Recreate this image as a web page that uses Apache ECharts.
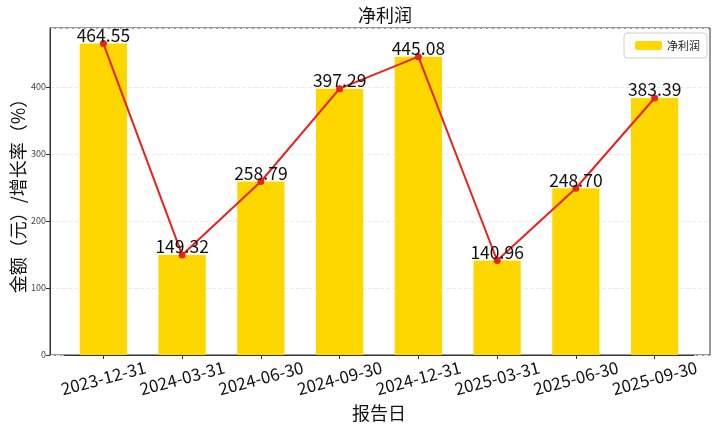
<!DOCTYPE html>
<html><head><meta charset="utf-8">
<script src="https://cdn.jsdelivr.net/npm/echarts@6/dist/echarts.min.js"></script>
<style>html,body{margin:0;padding:0;background:#fff}#c{width:719px;height:428px}</style>
</head><body><div id="c"></div>
<script>
var categories = ['2023-12-31','2024-03-31','2024-06-30','2024-09-30','2024-12-31','2025-03-31','2025-06-30','2025-09-30'];
var netProfit = [464.55, 149.32, 258.79, 397.29, 445.08, 140.96, 248.70, 383.39];
var yTicks = [0, 100, 200, 300, 400];
var yMax = 487.8;
var FONT = '"Noto Sans CJK SC", "DejaVu Sans", sans-serif';

var chart = echarts.init(document.getElementById('c'), null, {renderer: 'canvas'});
chart.setOption({
  animation: false,
  backgroundColor: '#fff',
  textStyle: {fontFamily: FONT},
  title: {text: '净利润', left: 380, top: 1, textAlign: 'center',
    textStyle: {fontSize: 18, fontWeight: 'normal', color: '#111', fontFamily: FONT}},
  legend: {
    right: 12, top: 33, data: ['净利润'],
    itemWidth: 27, itemHeight: 9, itemGap: 8,
    borderColor: '#d0d0d0', borderWidth: 1, borderRadius: 3,
    padding: [7, 7, 7, 11],
    textStyle: {fontSize: 11, color: '#222', fontFamily: FONT}
  },
  grid: [
    {left: 64, right: 25, top: 28, bottom: 73, containLabel: false, outerBoundsMode: 'none'},
    {left: 50, right: 9, top: 28, bottom: 73, show: true, borderColor: '#333', borderWidth: 1,
     backgroundColor: 'transparent', containLabel: false, outerBoundsMode: 'none'}
  ],
  xAxis: [
    {type: 'category', gridIndex: 0, data: categories,
     axisLine: {show: true, lineStyle: {color: '#333'}},
     axisTick: {show: true, alignWithLabel: true, interval: 0, length: 4, lineStyle: {color: '#333'}},
     axisLabel: {interval: 0, hideOverlap: false, rotate: 15, fontSize: 17, color: '#111', margin: 23,
       align: 'center', verticalAlign: 'middle', fontFamily: FONT},
     name: '报告日', nameLocation: 'middle', nameGap: 49, nameMoveOverlap: false,
     nameTextStyle: {fontSize: 18, color: '#111', fontFamily: FONT},
     splitLine: {show: false}},
    {type: 'value', gridIndex: 1, show: false, min: 0, max: 1}
  ],
  yAxis: [
    {type: 'value', gridIndex: 0, min: 0, max: yMax, show: false, splitLine: {show: false}},
    {type: 'value', gridIndex: 1, min: 0, max: yMax, interval: 100,
     axisLine: {show: true, lineStyle: {color: '#333'}},
     axisTick: {show: true, length: 4, lineStyle: {color: '#333'}},
     axisLabel: {fontSize: 9, color: '#444', margin: 4, showMaxLabel: false,
       formatter: function(v){ return yTicks.indexOf(v) >= 0 ? String(v) : ''; }},
     splitLine: {show: true, lineStyle: {color: '#ebebeb', type: 'dashed', width: 1}},
     name: '金额（元）/增长率（%）', nameLocation: 'middle', nameGap: 23, nameMoveOverlap: false,
     nameTextStyle: {fontSize: 18, color: '#111', fontFamily: FONT}}
  ],
  series: [
    {name: '净利润', type: 'bar', xAxisIndex: 0, yAxisIndex: 0, data: netProfit,
     barWidth: '60%', itemStyle: {color: '#FFD700'}, z: 2},
    {name: '净利润线', type: 'line', xAxisIndex: 0, yAxisIndex: 0, data: netProfit,
     symbol: 'circle', symbolSize: 7,
     lineStyle: {color: '#e8221c', width: 2}, itemStyle: {color: '#e8221c'},
     label: {show: true, position: 'top', distance: -4, fontSize: 17.5, color: '#111', fontFamily: FONT,
       formatter: function(p){ return p.value.toFixed(2); }},
     z: 3}
  ]
});
</script></body></html>
